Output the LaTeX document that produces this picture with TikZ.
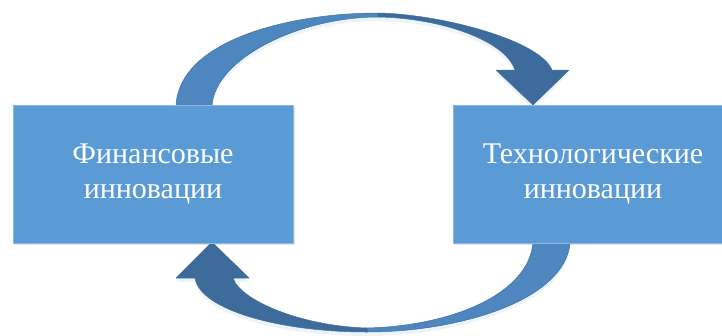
\documentclass[tikz,border=0pt]{standalone}
\usepackage{fontspec}
\setmainfont{Liberation Serif}
\usetikzlibrary{shadows}
\definecolor{boxblue}{HTML}{5B9BD5}
\definecolor{arrlite}{HTML}{4E86BF}
\definecolor{arrdark}{HTML}{3D6B9B}
\definecolor{arredge}{HTML}{41719C}

\begin{document}
\begin{tikzpicture}[x=1pt,y=-1pt,
  innov/.style={rectangle,fill=boxblue,draw=boxblue!70!white,line width=0.6pt,
    minimum width=280pt,minimum height=138pt,text=white,align=center,
    font=\fontsize{30}{35}\selectfont,
    drop shadow={opacity=0.18,fill=boxblue!80!black,shadow xshift=2pt,shadow yshift=-2pt}},
  glow/.style={preaction={fill=boxblue!45,fill opacity=0.25,transform canvas={yshift=-4pt}}},
  lite/.style={fill=arrlite,draw=arredge,line width=0.5pt,line join=round},
  dark/.style={fill=arrdark,draw=arredge,line width=0.5pt,line join=round}]

\useasboundingbox (0,0) rectangle (722,335);

% top arrow
\coordinate (t1) at (176,105);
\coordinate (t2) at (212,105);
\coordinate (ta) at (378,13);
\coordinate (tb) at (378,17);
\coordinate (th1) at (515,70);
\coordinate (th2) at (496,70);
\coordinate (th3) at (533,105);
\coordinate (th4) at (569,70);
\coordinate (th5) at (552,70);

% bottom arrow
\coordinate (b1) at (570,243);
\coordinate (b2) at (533,243);
\coordinate (ba) at (367,332);
\coordinate (bb) at (367,328);
\coordinate (bh1) at (233,278);
\coordinate (bh2) at (249,278);
\coordinate (bh3) at (212,242);
\coordinate (bh4) at (176,278);
\coordinate (bh5) at (195,278);

\path[glow] (t1) .. controls (180,40) and (290,13) .. (ta) .. controls (440,14) and (540,40) .. (th5)
  -- (th4) -- (th3) -- (th2) -- (th1) .. controls (505,40) and (440,18) .. (tb)
  .. controls (300,17) and (216,58) .. (t2) -- cycle;
\path[glow] (b1) .. controls (565,300) and (460,332) .. (ba) .. controls (280,332) and (200,310) .. (bh5)
  -- (bh4) -- (bh3) -- (bh2) -- (bh1) .. controls (240,300) and (300,326) .. (bb)
  .. controls (450,326) and (528,295) .. (b2) -- cycle;

\draw[lite] (t1) .. controls (180,40) and (290,13) .. (ta) -- (tb) .. controls (300,17) and (216,58) .. (t2) -- cycle;
\draw[dark] (ta) .. controls (440,14) and (540,40) .. (th5) -- (th4) -- (th3) -- (th2) -- (th1)
  .. controls (505,40) and (440,18) .. (tb) -- cycle;

\draw[lite] (b1) .. controls (565,300) and (460,332) .. (ba) -- (bb) .. controls (450,326) and (528,295) .. (b2) -- cycle;
\draw[dark] (ba) .. controls (280,332) and (200,310) .. (bh5) -- (bh4) -- (bh3) -- (bh2) -- (bh1)
  .. controls (240,300) and (300,326) .. (bb) -- cycle;

\node[innov] (fin) at (153,174) {Финансовые\\инновации};
\node[innov] (tech) at (593,174) {Технологические\\инновации};
\end{tikzpicture}
\end{document}
